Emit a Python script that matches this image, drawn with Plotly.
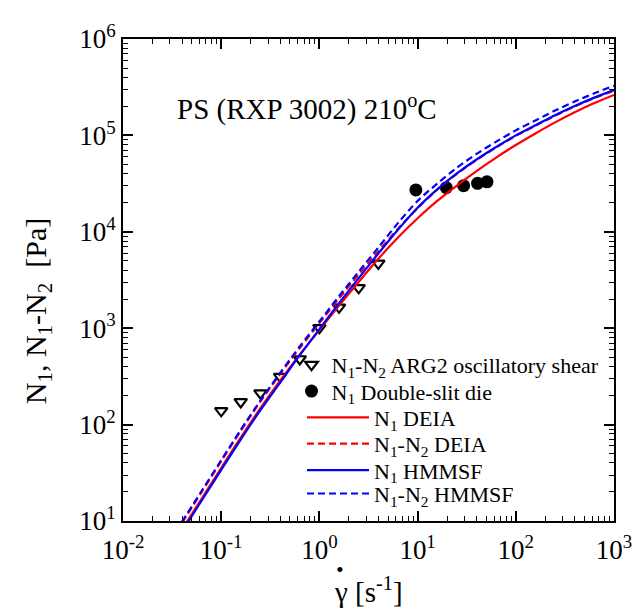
import plotly.graph_objects as go

# ---------------- data ----------------
# ARG2 oscillatory shear, N1-N2
arg2_rate = [0.1, 0.158, 0.251, 0.398, 0.631, 1.0, 1.585, 2.512, 3.981]
arg2_n1n2 = [139, 172, 212, 315, 479, 1009, 1647, 2625, 4699]

# Double-slit die, N1
slit_rate = [9.6, 19.6, 29.4, 40.8, 50.9]
slit_n1 = [27200, 28700, 30100, 31800, 33000]

# model predictions
model_rate = [0.0398, 0.0631, 0.1, 0.158, 0.251, 0.398, 0.631, 1.0, 1.585, 2.512,
              3.981, 6.31, 10.0, 15.85, 25.12, 39.81, 63.1, 100.0, 158.5, 251.2,
              398.1, 631.0, 1000.0]
n1_deia = [8.13, 16.98, 35.48, 73.28, 147.9, 285.1, 530.9, 955.0, 1718, 3020,
           5248, 8710, 13804, 20893, 30200, 42658, 58884, 79433, 104713, 136458,
           173780, 216272, 263027]
n1n2_deia = [9.55, 19.95, 41.69, 86.10, 173.8, 335.0, 623.7, 1127, 2037, 3597,
             6281, 10750, 17580, 27300, 39810, 55590, 74989, 98855, 125893, 160325,
             199526, 243781, 291743]
n1_hmmsf = [7.76, 16.22, 33.88, 69.98, 141.3, 272.3, 524.8, 977.2, 1820, 3311,
            5957, 10520, 17780, 27540, 40270, 56234, 75858, 100000, 127350, 162181,
            201837, 246604, 295121]
n1n2_hmmsf = [9.77, 20.42, 42.66, 88.10, 177.8, 342.8, 645.7, 1175, 2148, 3855,
              6871, 12300, 20890, 31620, 46240, 64269, 86099, 112720, 142889, 181134,
              224388, 273527, 327341]

x_tickvals = [0.01, 0.1, 1, 10, 100, 1000]
x_ticktext = ["10<sup>-2</sup>", "10<sup>-1</sup>", "10<sup>0</sup>",
              "10<sup>1</sup>", "10<sup>2</sup>", "10<sup>3</sup>"]
y_tickvals = [10, 100, 1000, 1e4, 1e5, 1e6]
y_ticktext = ["10<sup>1</sup>", "10<sup>2</sup>", "10<sup>3</sup>",
              "10<sup>4</sup>", "10<sup>5</sup>", "10<sup>6</sup>"]

FONT = "Liberation Serif, Times New Roman, serif"

# plot area in page pixels (the page body has an 8px margin)
BODY = 8
PX0, PX1, PY0, PY1 = 123.0, 614.0, 27.0, 521.0
PW, PH = PX1 - PX0, PY1 - PY0
FIG_W, FIG_H = 644 - BODY, 611 - BODY


def px(x):
    return (x - PX0) / PW


def py(y):
    return (PY1 - y) / PH


fig = go.Figure()

fig.add_trace(go.Scatter(
    x=arg2_rate, y=arg2_n1n2, mode="markers",
    name="N<sub>1</sub>-N<sub>2</sub> ARG2 oscillatory shear",
    marker=dict(symbol="triangle-down-open", size=11, color="black",
                line=dict(width=2.2, color="black")),
    legend="legend"))
fig.add_trace(go.Scatter(
    x=slit_rate, y=slit_n1, mode="markers",
    name="N<sub>1</sub> Double-slit die",
    marker=dict(symbol="circle", size=13, color="black"),
    legend="legend2"))

line_w = 2.2
dash = "7px,4px"
fig.add_trace(go.Scatter(
    x=model_rate, y=n1_deia, mode="lines", name="N<sub>1</sub> DEIA",
    line=dict(color="#ff0000", width=line_w, shape="spline", smoothing=0.8),
    legend="legend3"))
fig.add_trace(go.Scatter(
    x=model_rate, y=n1n2_deia, mode="lines", name="N<sub>1</sub>-N<sub>2</sub> DEIA",
    line=dict(color="#ff0000", width=line_w, dash=dash, shape="spline", smoothing=0.8),
    legend="legend4"))
fig.add_trace(go.Scatter(
    x=model_rate, y=n1_hmmsf, mode="lines", name="N<sub>1</sub> HMMSF",
    line=dict(color="#0000ff", width=line_w, shape="spline", smoothing=0.8),
    legend="legend5"))
fig.add_trace(go.Scatter(
    x=model_rate, y=n1n2_hmmsf, mode="lines", name="N<sub>1</sub>-N<sub>2</sub> HMMSF",
    line=dict(color="#0000ff", width=line_w, dash=dash, shape="spline", smoothing=0.8),
    legend="legend6"))

axis_common = dict(
    type="log", showline=True, linecolor="black", linewidth=2, mirror="allticks",
    ticks="inside", ticklen=10, tickwidth=1.5, tickcolor="black",
    showgrid=False, zeroline=False,
    minor=dict(ticks="inside", ticklen=5, tickwidth=1, tickcolor="black",
               dtick="D1", showgrid=False),
    tickfont=dict(family=FONT, size=27, color="black"),
)

fig.update_xaxes(range=[-2, 3], tickvals=x_tickvals, ticktext=x_ticktext,
                 ticklabelstandoff=4, **axis_common)
fig.update_yaxes(range=[1, 6], tickvals=y_tickvals, ticktext=y_ticktext, **axis_common)

LEG_FONT = dict(family=FONT, size=22, color="black")
marker_leg = dict(xanchor="left", yanchor="middle", bgcolor="rgba(0,0,0,0)",
                  font=LEG_FONT, itemwidth=30, x=px(291.5))
line_leg = dict(xanchor="left", yanchor="middle", bgcolor="rgba(0,0,0,0)",
                font=LEG_FONT, itemwidth=62, x=px(302))

fig.update_layout(
    width=FIG_W, height=FIG_H,
    margin=dict(l=PX0 - BODY, r=644 - PX1, t=PY0 - BODY, b=611 - PY1, pad=0),
    paper_bgcolor="white", plot_bgcolor="white",
    font=dict(family=FONT, color="black"),
    showlegend=True,
    legend=dict(y=py(361), **marker_leg),
    legend2=dict(y=py(388), **marker_leg),
    legend3=dict(y=py(415), **line_leg),
    legend4=dict(y=py(442), **line_leg),
    legend5=dict(y=py(469), **line_leg),
    legend6=dict(y=py(493), **line_leg),
    annotations=[
        dict(text="PS (RXP 3002) 210<sup>o</sup>C", xref="paper", yref="paper",
             x=px(175), y=py(97), xanchor="left", yanchor="middle", showarrow=False,
             font=dict(family=FONT, size=29, color="black")),
        dict(text="\u03b3 [s<sup>-1</sup>]", xref="paper", yref="paper",
             x=px(368), y=py(592), xanchor="center", yanchor="middle",
             showarrow=False, font=dict(family=FONT, size=29, color="black")),
        dict(text="\u2022", xref="paper", yref="paper",
             x=px(340), y=py(571), xanchor="center", yanchor="middle",
             showarrow=False, font=dict(family=FONT, size=22, color="black")),
        dict(text="N<sub>1</sub>, N<sub>1</sub>-N<sub>2</sub>  [Pa]", xref="paper", yref="paper",
             x=px(38), y=py(306), xanchor="center", yanchor="middle",
             textangle=-90, showarrow=False, font=dict(family=FONT, size=30, color="black")),
    ],
)

fig.write_html("out.html")
